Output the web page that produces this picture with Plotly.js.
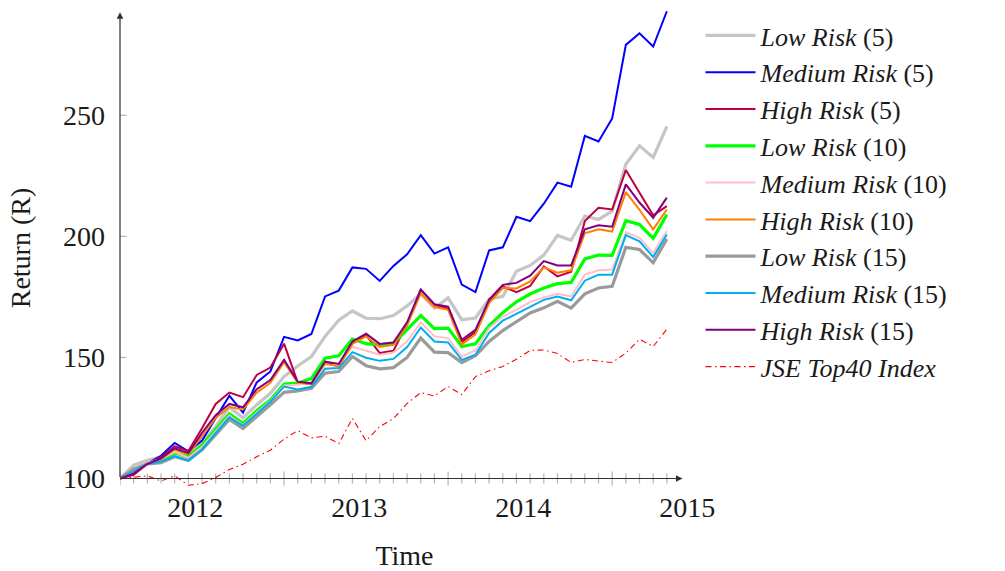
<!DOCTYPE html>
<html>
<head>
<meta charset="utf-8">
<script src="https://cdn.plot.ly/plotly-3.0.1.min.js"></script>
<style>html,body{margin:0;padding:0;background:#fff;}</style>
</head>
<body>
<div id="chart" style="width:1005px;height:571px;"></div>
<script>
// Monthly observation index (first observation = 0)
const months = [0,1,2,3,4,5,6,7,8,9,10,11,12,13,14,15,16,17,18,19,20,
                21,22,23,24,25,26,27,28,29,30,31,32,33,34,35,36,37,38,39,40];

// Portfolio returns, rebased to 100
const lowRisk5 = [100,105.5,107.5,109,112.2,110.3,114.5,121.5,129.5,125,130.5,135.2,142.1,146.5,150.4,158.7,165.4,169.2,166.2,166,167.3,
                  171.3,176.3,170.4,174.6,165.6,166.3,174.2,175.2,185.6,188,192.3,200.4,198.4,208.4,207,210.4,229.8,237.4,232.6,245.4];
const mediumRisk5 = [100,102.7,106.2,109.4,114.7,111.2,115.7,125.2,134.2,127.2,139.7,144.2,158.5,157,159.7,175.2,177.6,187.2,186.6,181.6,187.8,
                     192.6,200.5,192.9,195.5,180.1,177,194.2,195.5,208.1,206.3,213.5,222.2,220.5,241.5,239.2,248.7,279.1,283.9,278.4,293];
const highRisk5 = [100,101.5,106,108.8,113.3,111.4,120.8,130.8,135.5,133.6,142.8,145.8,155.7,139.6,139,148.3,146.5,156.2,159.2,151.8,152.8,
                   163.8,178,171.8,170.2,156.4,160.5,173.3,179.3,177,179.5,187.6,183.5,185.4,206.3,211.8,211.1,227.4,218,208.7,212.5];
const lowRisk10 = [100,103.5,106.2,107.6,110.6,109,113.8,120.3,126.7,122.8,128,132.4,139,139.4,141.3,149.7,150.7,157.6,155.7,155.2,155.9,
                   161.5,167.3,161.9,162.1,154.5,155.6,163.2,168.5,173,176.2,178.7,180.5,181,190.7,192.3,192.2,206.5,204.9,199.2,209];
const mediumRisk10 = [100,103.5,106.5,108,111,108.5,113,119.5,126,122,127.3,132,138.4,138.7,139.6,146.9,146.9,154.5,152.7,151.1,152,
                      156.6,164.5,158.7,158,150.4,152.9,162.1,166.9,169.7,172.9,174.8,176.3,175.2,184.2,186,186.3,201.7,199.4,193.2,202.2];
const highRisk10 = [100,102.3,106,108,112,110,117.5,125,129.5,128.5,135.5,139.5,148,139.6,139,147.6,146.2,155.6,158.7,154.3,155.2,
                    163.2,176.5,170.8,169.7,155.4,159.5,172.5,178.7,178.5,181.4,187.2,185,186,201.3,202.9,202,218.3,211,202.9,211.1];
const lowRisk15 = [100,104,106,106.5,109,107.5,111.8,117.9,124.4,120.7,125.5,130.4,135.6,136.2,137.3,143.5,144.2,150.4,146.6,145.3,145.8,
                   150,158,152.2,152,147.9,150.7,156.6,161.1,164.9,168.4,170.5,173.2,170.4,176.3,178.7,179.4,195.5,194.6,189.1,198.9];
const mediumRisk15 = [100,103,106,107,109.3,107.3,112,118.8,125.3,121.8,126.6,131.7,138,136.8,137.9,145.3,145.6,152.2,149.9,148.6,149.4,
                      154.3,162.4,156.6,156.2,149,151.1,160.1,165.2,168.1,171.1,173.8,175.2,173.6,181.7,184.2,184.2,200.5,198,191.5,200.8];
const highRisk15 = [100,102,106,108.3,112.5,110.5,118.9,126.2,130.8,129.4,136.9,140.7,149,140,139.3,148.3,147.3,156.6,159.8,155.6,156.2,
                    164.5,178,172,171,157.3,161.4,173.9,180,180.8,183.8,189.8,188,188,202.9,204.6,204,221.5,214,207.7,216];
const jseTop40 = [100,100.7,101.1,99,101.1,97.2,97.9,100.4,103.7,105.9,109,111.7,116.3,119.8,116.8,117.5,114.4,124.8,115.6,121.5,124.7,
                  131,135.5,134.1,138,134.7,142.1,144.5,146.3,149.3,152.9,153.1,151.6,147.9,149.2,148.5,147.9,151.8,157.5,154.5,161.7];

const seriesNames = ['<i>Low Risk</i> (5)', '<i>Medium Risk</i> (5)', '<i>High Risk</i> (5)',
                     '<i>Low Risk</i> (10)', '<i>Medium Risk</i> (10)', '<i>High Risk</i> (10)',
                     '<i>Low Risk</i> (15)', '<i>Medium Risk</i> (15)', '<i>High Risk</i> (15)',
                     '<i>JSE Top40 Index</i>'];

// Axis ticks
const yearLabels = ['2012', '2013', '2014', '2015'];
const yearLabelAt = [5.5, 17.5, 29.5, 41.5];
const majorTicksX = [0, 12, 24, 36];
const yTicks = [100, 150, 200, 250];

const seriesValues = [lowRisk5, mediumRisk5, highRisk5, lowRisk10, mediumRisk10, highRisk10,
                      lowRisk15, mediumRisk15, highRisk15, jseTop40];
const styles = [
  {color: '#c6c6c6', width: 3.2},
  {color: '#0000ff', width: 2},
  {color: '#bf0040', width: 2},
  {color: '#00ff00', width: 3.2},
  {color: '#ffc0c8', width: 2},
  {color: '#ff8000', width: 2},
  {color: '#9a9a9a', width: 3.2},
  {color: '#00aeef', width: 2},
  {color: '#800080', width: 2},
  {color: '#ff0000', width: 1.1, dash: '6px,3.5px,1.5px,3.5px'}
];

const traces = seriesValues.map((vals, i) => ({
  type: 'scatter',
  mode: 'lines',
  x: months,
  y: vals,
  name: seriesNames[i],
  line: Object.assign({shape: 'linear'}, styles[i]),
  hoverinfo: 'skip'
}));

// Tick marks crossing the axis lines
const tickGray = '#b4b4b4';
const shapes = [];
months.forEach(m => {
  const major = majorTicksX.includes(m);
  shapes.push({
    type: 'line', xref: 'x', yref: 'y', x0: m, x1: m,
    ysizemode: 'pixel', yanchor: 100, y0: major ? -7 : -5, y1: major ? 7 : 5,
    line: {color: tickGray, width: 1.2}, layer: 'below'
  });
});
yTicks.forEach(v => {
  shapes.push({
    type: 'line', xref: 'x', yref: 'y', y0: v, y1: v,
    xsizemode: 'pixel', xanchor: 0, x0: -6.5, x1: 6.5,
    line: {color: tickGray, width: 1.2}, layer: 'below'
  });
});

// Axis lines with arrow heads
const axisColor = '#303030';
const annotations = [
  {x: 0, y: 292.6, ax: 0, ay: 100, xref: 'x', yref: 'y', axref: 'x', ayref: 'y',
   text: '', showarrow: true, arrowhead: 2, arrowsize: 1.1, arrowwidth: 1.2, arrowcolor: axisColor, standoff: 0, startstandoff: 0},
  {x: 41.15, y: 100, ax: 0, ay: 100, xref: 'x', yref: 'y', axref: 'x', ayref: 'y',
   text: '', showarrow: true, arrowhead: 2, arrowsize: 1.1, arrowwidth: 1.2, arrowcolor: axisColor, standoff: 0, startstandoff: 0}
];

const serif = 'Liberation Serif, Times New Roman, serif';

const layout = {
  width: 1005, height: 571,
  margin: {l: 120, r: 316, t: 8, b: 83, pad: 0},
  paper_bgcolor: '#ffffff', plot_bgcolor: '#ffffff',
  font: {family: serif, size: 28, color: '#1a1a1a'},
  showlegend: true,
  xaxis: {
    range: [0, 41.62], tickvals: yearLabelAt, ticktext: yearLabels, ticks: '',
    showgrid: false, zeroline: false, showline: false, fixedrange: true,
    ticklabelstandoff: 0, tickfont: {family: serif, size: 28},
    title: {text: 'Time', standoff: 28, font: {family: serif, size: 28}}
  },
  yaxis: {
    range: [96.08, 294.34], tickvals: yTicks, ticks: '',
    showgrid: false, zeroline: false, showline: false, fixedrange: true,
    ticklabelstandoff: 14, tickfont: {family: serif, size: 28},
    title: {text: 'Return (R)', standoff: 24, font: {family: serif, size: 28}}
  },
  legend: {
    xref: 'container', yref: 'container', x: 0.697, y: 0.979, xanchor: 'left', yanchor: 'top',
    bgcolor: 'rgba(0,0,0,0)', borderwidth: 0, itemwidth: 50, tracegroupgap: 0,
    maxheight: 560,
    font: {family: serif, size: 26, color: '#1a1a1a'}
  },
  shapes: shapes,
  annotations: annotations
};

Plotly.newPlot('chart', traces, layout, {displayModeBar: false, staticPlot: true});
</script>
</body>
</html>
